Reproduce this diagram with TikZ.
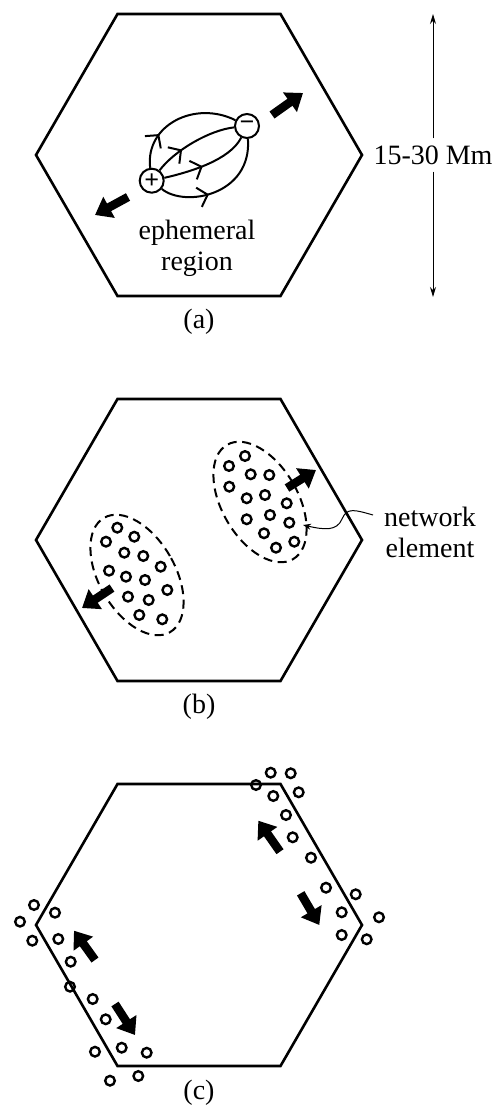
\documentclass[tikz,border=0pt]{standalone}
\usepackage{fontspec}
\setmainfont{Liberation Serif}
\usetikzlibrary{arrows.meta,decorations.markings}
\begin{document}
\begin{tikzpicture}[x=0.5pt, y=-0.5pt,
    every node/.style={font=\fontsize{14}{15.5}\selectfont},
    hexline/.style={line width=1.3pt, line join=miter},
    bigarrow/.style={line width=4.3pt, -{Triangle[length=8pt,width=11.5pt]}},
    ringdot/.style={line width=1.2pt},
    blob/.style={line width=1pt, dash pattern=on 4.5pt off 2.8pt},
    charge/.style={circle, draw, line width=1pt, minimum size=12pt, inner sep=0pt, fill=white, font=\fontsize{13}{13}\selectfont\bfseries},
    fieldline/.style={line width=1pt, postaction={decorate}, decoration={markings, mark=at position #1 with {\arrow{Straight Barb[length=4.5pt,width=10pt]}}}},
    dimarrow/.style={line width=0.5pt, -{Stealth[length=5pt,width=3pt]}}]
    \useasboundingbox (0,0) rectangle (498,1106);
    \foreach \cy in {155,540,925}
      \draw[hexline] (117.5,\cy-141) -- (280.5,\cy-141) -- (362,\cy) -- (280.5,\cy+141) -- (117.5,\cy+141) -- (36,\cy) -- cycle;
    \node (capa) at (199,322) {(a)};
    \node (capb) at (199,707) {(b)};
    \node (capc) at (199,1093) {(c)};
    \node[charge] (plus) at (151.7,180.7) {+};
    \node[charge] (minus) at (247,126) {−};
    \draw[fieldline=0.3] (plus) .. controls (145,125) and (195,100) .. (minus);
    \draw[fieldline=0.35] (plus) .. controls (175,150) and (210,130) .. (minus);
    \draw[fieldline=0.45] (plus) .. controls (190,172) and (230,160) .. (minus);
    \draw[fieldline=0.4] (plus) .. controls (185,208) and (252,195) .. (minus);
    \node[align=center] (ername) at (197,248) {ephemeral\\region};
    \draw[bigarrow] (272,115) -- (303,93);
    \draw[bigarrow] (128,197) -- (95,215);
    \coordinate (dimtop) at (433,14);
    \coordinate (dimbot) at (433,297);
    \node (dimlab) at (433,155) {15-30 Mm};
    \draw[dimarrow] (dimlab) -- (dimtop);
    \draw[dimarrow] (dimlab) -- (dimbot);
    \draw[blob, rotate around={30:(260,502)}] (260,502) ellipse [x radius=19pt, y radius=33pt];
    \draw[blob, rotate around={30:(137,575)}] (137,575) ellipse [x radius=19pt, y radius=33pt];
    \foreach \x/\y in {245/456, 229/466, 250.7/474.3, 269.3/475, 229.3/486.7, 246.7/498.3, 265/495,
      286.7/503.3, 246.7/519.3, 270/515, 289.3/522.7, 264/533.3, 276/547.7, 294.3/541.7,
      117.3/527.7, 106/541.7, 134.3/536.7, 124.3/552.7, 143.3/556, 109/570.7, 126/576.7,
      145/580, 160.7/566.7, 128/596.7, 148.7/600, 167.3/590, 139.3/615, 162.3/619.3}
      \draw[ringdot] (\x,\y) circle [radius=2.4pt];
    \draw[bigarrow] (287,488) -- (316,470);
    \draw[bigarrow] (112,588) -- (82,608);
    \node[align=center] (netlabel) at (430,532) {network\\element};
    \coordinate (netpt) at (303,525);
    \draw[line width=0.5pt, -{Stealth[length=4pt,width=3pt]}] ([xshift=-2pt,yshift=8.5pt]netlabel.west) .. controls (355,510) and (347,507) .. (342,519) .. controls (337,531) and (325,530) .. (netpt);
    \foreach \x/\y in {270.7/772.7, 290.7/773.3, 256/785, 273.3/796, 298.7/792.3, 286/815, 292.7/837.3,
      311/857.7, 326/887.7, 355.7/894.3, 341.7/912.3, 379/917.3, 341.7/935, 366.7/939.3,
      34/905, 20/921.7, 55/912.7, 32.3/940.7, 58.3/939, 70.7/961.7, 70/986.7,
      92.7/999, 105.7/1019.3, 95/1051.7, 121.7/1047.7, 146.7/1052.7, 110/1080.7, 138.3/1076}
      \draw[ringdot] (\x,\y) circle [radius=2.4pt];
    \draw[bigarrow] (280,851.7) -- (258.3,820.7);
    \draw[bigarrow] (300.7,893.3) -- (319.3,925);
    \draw[bigarrow] (95,960) -- (74,930.7);
    \draw[bigarrow] (115,1004) -- (135,1035);
  \end{tikzpicture}
\end{document}
